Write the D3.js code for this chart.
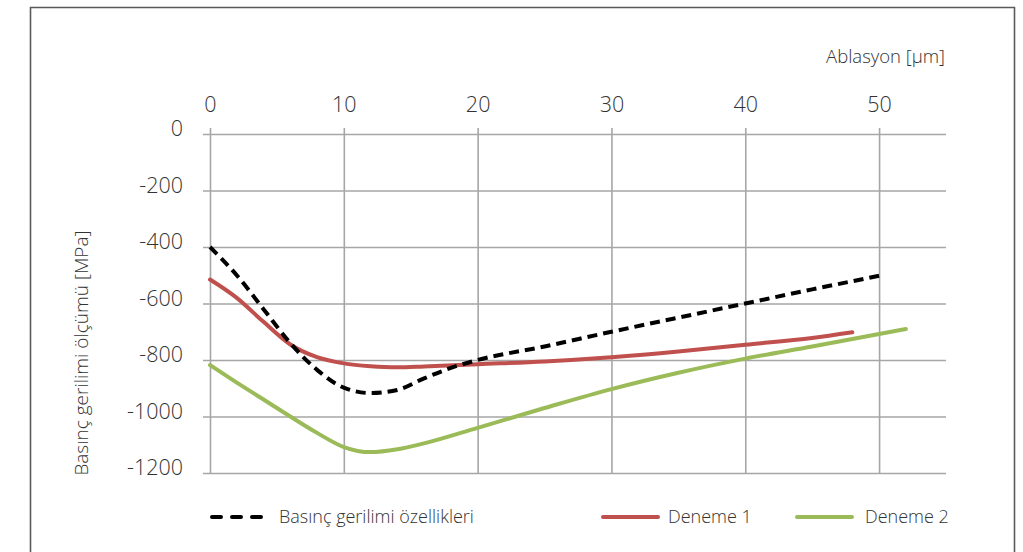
<!DOCTYPE html>
<html>
<head>
<meta charset="utf-8">
<script src="https://cdn.jsdelivr.net/npm/d3@7"></script>
<style>
  body { margin: 0; background: #fff; }
  text { font-family: "Open Sans", sans-serif; font-weight: 300; fill: #333; }
</style>
</head>
<body>
<div id="chart"></div>
<script>
// ablation depth (µm) and measured stress (MPa)
const xTicks = [0, 10, 20, 30, 40, 50];
const yTicks = [0, -200, -400, -600, -800, -1000, -1200];

const profileX = [0, 2, 4, 6, 8, 10, 12, 14, 16, 18, 20, 25, 30, 35, 40, 45, 50];
const profileY = [-400, -500, -620, -740, -835, -898, -917, -906, -865, -828, -800, -752, -700, -650, -600, -550, -502];

const run1X = [0, 2, 4, 6, 8, 10, 12, 14, 16, 20, 25, 30, 35, 40, 45, 48];
const run1Y = [-515, -580, -665, -745, -790, -812, -822, -826, -823, -815, -805, -790, -770, -746, -722, -702];

const run2X = [0, 2, 4, 6, 8, 10, 12, 14, 16, 20, 25, 30, 35, 40, 45, 52];
const run2Y = [-818, -880, -940, -1000, -1058, -1108, -1126, -1116, -1095, -1040, -970, -903, -845, -795, -752, -690];

const seriesNames = ["Basınç gerilimi özellikleri", "Deneme 1", "Deneme 2"];

let svg = d3.select("#chart").append("svg")
    .attr("width", 1023)
    .attr("height", 552);

// frame (open at the bottom)
svg.append("path")
    .attr("d", "M30.5,560V7.5H1014.5V560")
    .attr("fill", "none")
    .attr("stroke", "#5a5a5a")
    .attr("stroke-width", 1.6);

let x = d3.scaleLinear().domain([0, 55]).range([210, 946]);
let y = d3.scaleLinear().domain([-1200, 0]).range([473, 134]);

// vertical grid + top labels
let xAxis = svg.append("g")
    .attr("class", "x axis")
    .attr("transform", "translate(0,128)")
    .call(d3.axisTop(x).tickValues(xTicks).tickSize(-(473 - 128)).tickPadding(16));
xAxis.select(".domain").remove();
xAxis.selectAll("line").attr("stroke", "#a6a6a6").attr("stroke-width", 1.6);
xAxis.selectAll("text").style("font-size", "21.5px").attr("fill", "#333");

// horizontal grid + left labels
let yAxis = svg.append("g")
    .attr("class", "y axis")
    .attr("transform", "translate(203,0)")
    .call(d3.axisLeft(y).tickValues(yTicks).tickSize(-(946 - 203)).tickPadding(20)
        .tickFormat(d => String(d)));
yAxis.select(".domain").remove();
yAxis.selectAll("line").attr("stroke", "#a6a6a6").attr("stroke-width", 1.6);
yAxis.selectAll("text").style("font-size", "21.5px").attr("fill", "#333").attr("y", -5);

// axis titles
svg.append("text")
    .attr("x", 945)
    .attr("y", 63)
    .attr("text-anchor", "end")
    .style("font-size", "18.5px")
    .text("Ablasyon [µm]");

svg.append("text")
    .attr("transform", "translate(88,353) rotate(-90)")
    .attr("text-anchor", "middle")
    .style("font-size", "19px")
    .text("Basınç gerilimi ölçümü [MPa]");

let line = d3.line()
    .x(d => x(d[0]))
    .y(d => y(d[1]))
    .curve(d3.curveMonotoneX);

let series = [
    { pts: d3.zip(profileX, profileY), color: "#000", dash: "10,6" },
    { pts: d3.zip(run1X, run1Y), color: "#c0504d", dash: null },
    { pts: d3.zip(run2X, run2Y), color: "#9bbb59", dash: null }
];

// draw solid ones first, dashed on top
[series[1], series[2], series[0]].forEach(s => {
    svg.append("path")
        .attr("d", line(s.pts))
        .attr("fill", "none")
        .attr("stroke", s.color)
        .attr("stroke-width", 4)
        .attr("stroke-linecap", s.dash ? "butt" : "round")
        .attr("stroke-dasharray", s.dash);
});

// legend
let legendPos = [[210, 279], [603, 668], [797, 865]];
series.forEach((s, i) => {
    let g = svg.append("g").attr("transform", "translate(0,517)");
    g.append("line")
        .attr("x1", legendPos[i][0] + (s.dash ? 2 : 0))
        .attr("x2", legendPos[i][0] + 55)
        .attr("stroke", s.color)
        .attr("stroke-width", 4)
        .attr("stroke-linecap", "round")
        .attr("stroke-dasharray", s.dash ? "9,11" : null);
    g.append("text")
        .attr("x", legendPos[i][1])
        .attr("dy", "0.35em")
        .style("font-size", "18px")
        .text(seriesNames[i]);
});
</script>
</body>
</html>
